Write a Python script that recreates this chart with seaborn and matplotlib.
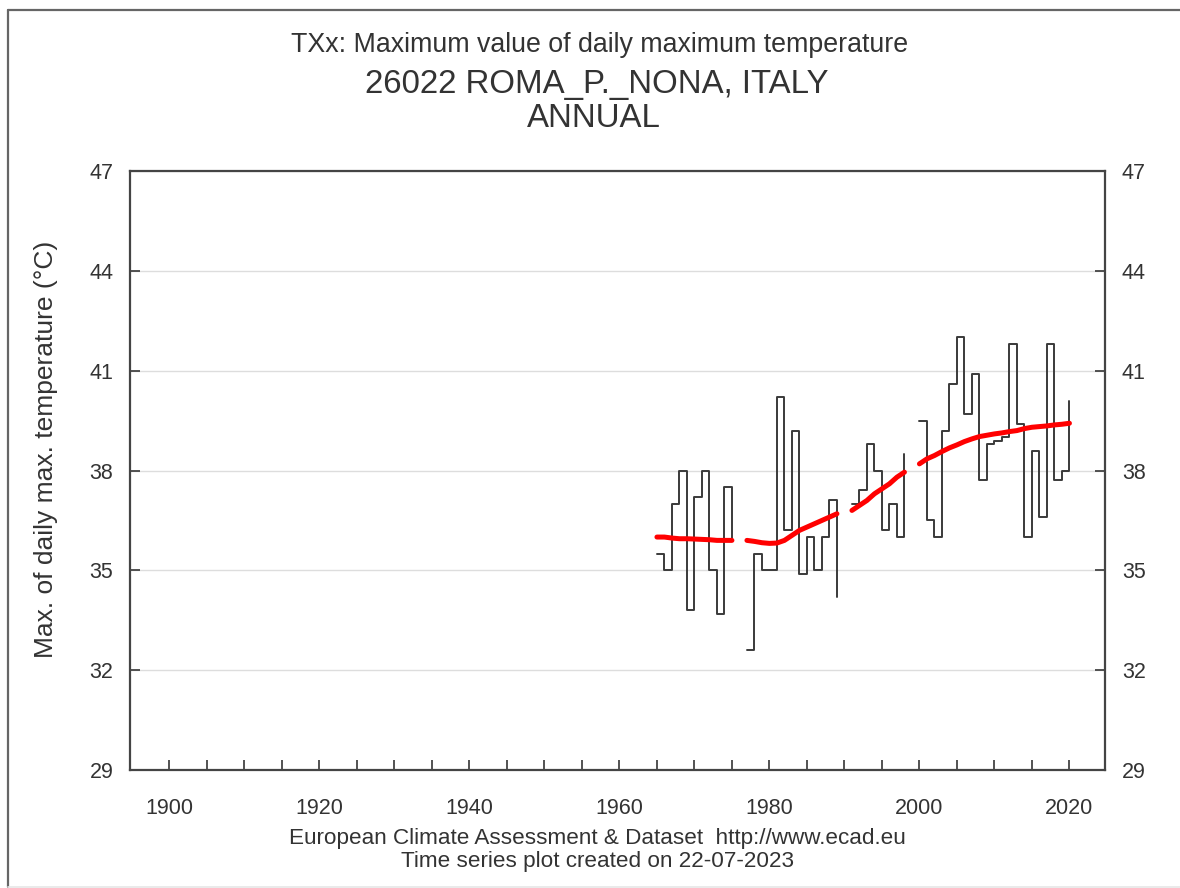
"""
ECA&D style annual TXx chart for Roma P. Nona, redrawn with seaborn.
"""
import matplotlib
matplotlib.use("Agg")
import matplotlib.pyplot as plt
import matplotlib.lines as mlines
import seaborn as sns
import pandas as pd
import numpy as np

# --- data (NaN = missing year) ---
years = list(range(1965, 2021))
txx = [35.5, 35.0, 37.0, 38.0, 33.8, 37.2, 38.0, 35.0, 33.7, 37.5, 35.9,
       np.nan,
       32.6, 35.5, 35.0, 35.0, 40.2, 36.2, 39.2, 34.9, 36.0, 35.0, 36.0, 37.1, 34.2,
       np.nan,
       37.0, 37.4, 38.8, 38.0, 36.2, 37.0, 36.0, 38.5,
       np.nan,
       39.5, 36.5, 36.0, 39.2, 40.6, 42.0, 39.7, 40.9, 37.7, 38.8, 38.9, 39.0,
       41.8, 39.4, 36.0, 38.6, 36.6, 41.8, 37.7, 38.0, 40.1]
trend = [36.0, 36.0, 35.97, 35.95, 35.95, 35.94, 35.93, 35.92, 35.9, 35.9, 35.9,
         np.nan,
         35.9, 35.87, 35.83, 35.81, 35.82, 35.9, 36.05, 36.2, 36.3, 36.4, 36.5, 36.6, 36.7,
         np.nan,
         36.8, 36.95, 37.1, 37.3, 37.45, 37.6, 37.8, 37.95,
         np.nan,
         38.2, 38.35, 38.45, 38.57, 38.68, 38.77, 38.87, 38.95, 39.02, 39.06, 39.1,
         39.13, 39.17, 39.2, 39.26, 39.3, 39.32, 39.34, 39.37, 39.39, 39.42]
y_ticks = [29, 32, 35, 38, 41, 44, 47]
x_labels = [1900, 1920, 1940, 1960, 1980, 2000, 2020]

df = pd.DataFrame({"year": years, "txx": txx, "trend": trend})
# split into contiguous blocks so gaps break the step line
df["block"] = df["txx"].isna().cumsum()
df = df.dropna(subset=["txx"])

sns.set_style("white")
plt.rcParams["font.family"] = ["Liberation Sans", "DejaVu Sans"]
TXT = "#333333"

fig = plt.figure(figsize=(11.8, 8.88), dpi=100)
ax = fig.add_axes([0.1102, 0.1329, 0.8263, 0.6745])

sns.lineplot(data=df, x="year", y="txx", units="block", estimator=None,
             drawstyle="steps-post", color="#3a3a3a", linewidth=1.4, ax=ax)
sns.lineplot(data=df, x="year", y="trend", units="block", estimator=None,
             color="#ff0000", linewidth=3.6, ax=ax)

ax.set_xlim(1894.75, 2024.75)
ax.set_ylim(29, 47)
ax.set_yticks(y_ticks)
ax.set_xticks(x_labels)
ax.set_xticks(np.arange(1900, 2021, 5), minor=True)
ax.yaxis.grid(True, color="#dddddd", linewidth=1)
ax.xaxis.grid(False)
ax.set_axisbelow(True)

ax.tick_params(axis="x", which="both", direction="in", length=7, width=1.3,
               color="#444444", labelsize=15.5, labelcolor=TXT, pad=20,
               bottom=True, top=False)
ax.tick_params(axis="y", which="both", direction="in", length=7, width=1.3,
               color="#444444", labelsize=15.5, labelcolor=TXT, pad=12,
               left=True, right=True, labelleft=True, labelright=True)
for s in ax.spines.values():
    s.set_visible(True)
    s.set_color("#444444")
    s.set_linewidth(1.6)

ax.set_xlabel("")
ax.set_ylabel("")

# titles and footer
fig.text(0.508, 0.9493, "TXx: Maximum value of daily maximum temperature",
         ha="center", va="center", fontsize=19.3, color=TXT)
fig.text(0.506, 0.9043, "26022 ROMA_P._NONA, ITALY",
         ha="center", va="center", fontsize=23.8, color=TXT)
fig.text(0.503, 0.8671, "ANNUAL", ha="center", va="center", fontsize=23.8, color=TXT)
fig.text(0.039, 0.494, "Max. of daily max. temperature (°C)", rotation=90,
         ha="center", va="center", fontsize=19, color=TXT)
fig.text(0.506, 0.0563, "European Climate Assessment & Dataset  http://www.ecad.eu",
         ha="center", va="center", fontsize=16.2, color=TXT)
fig.text(0.506, 0.0304, "Time series plot created on 22-07-2023",
         ha="center", va="center", fontsize=16.2, color=TXT)

# outer frame of the screenshot
fig.add_artist(mlines.Line2D([0.0068, 1.0], [0.9887, 0.9887], color="#666666", lw=1.6))
fig.add_artist(mlines.Line2D([0.0068, 0.0068], [0.0011, 0.9887], color="#666666", lw=1.6))
fig.add_artist(mlines.Line2D([0.0068, 1.0], [0.0011, 0.0011], color="#e6e6e6", lw=1.2))

fig.savefig("out.png", dpi=100)
